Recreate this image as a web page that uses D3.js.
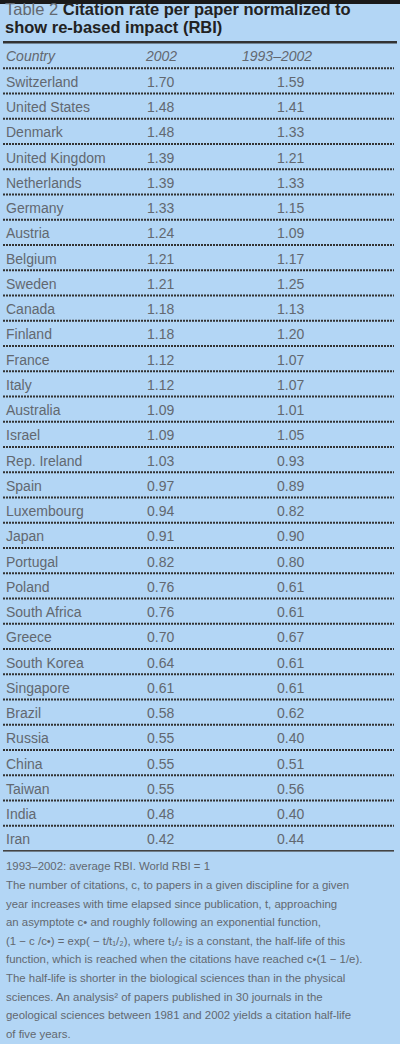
<!DOCTYPE html>
<html><head><meta charset="utf-8">
<script src="https://cdn.jsdelivr.net/npm/d3@7"></script>
<style>body{margin:0;background:#b3d6f5}</style></head>
<body><svg id="chart" width="400" height="1044"></svg>
<script>
const countries = ['Switzerland','United States','Denmark','United Kingdom','Netherlands','Germany','Austria','Belgium','Sweden','Canada','Finland','France','Italy','Australia','Israel','Rep. Ireland','Spain','Luxembourg','Japan','Portugal','Poland','South Africa','Greece','South Korea','Singapore','Brazil','Russia','China','Taiwan','India','Iran'];
const rbi2002 = [1.70,1.48,1.48,1.39,1.39,1.33,1.24,1.21,1.21,1.18,1.18,1.12,1.12,1.09,1.09,1.03,0.97,0.94,0.91,0.82,0.76,0.76,0.70,0.64,0.61,0.58,0.55,0.55,0.55,0.48,0.42];
const rbiAvg = [1.59,1.41,1.33,1.21,1.33,1.15,1.09,1.17,1.25,1.13,1.20,1.07,1.07,1.01,1.05,0.93,0.89,0.82,0.90,0.80,0.61,0.61,0.67,0.61,0.61,0.62,0.40,0.51,0.56,0.40,0.44];
const headers = ['Country','2002','1993\u20132002'];
const notes = ['The number of citations, c, to papers in a given discipline for a given','year increases with time elapsed since publication, t, approaching','an asymptote c\u2022 and roughly following an exponential function,','(1 \u2212 c /c\u2022) = exp( \u2212 t/t\u2081/\u2082), where t\u2081/\u2082 is a constant, the half-life of this','function, which is reached when the citations have reached c\u2022(1 \u2212 1/e).','The half-life is shorter in the biological sciences than in the physical','sciences. An analysis\u00b2 of papers published in 30 journals in the','geological sciences between 1981 and 2002 yields a citation half-life','of five years.'];

const svg = d3.select('#chart');
const ink = '#626870';
const font = 'Liberation Sans, Arial, sans-serif';

svg.append('rect').attr('width',400).attr('height',4).attr('fill','#1a1a1a');
const title = svg.append('text').attr('x',5).attr('y',15).attr('font-family',font).attr('font-size',16.5).attr('fill','#222');
title.append('tspan').attr('fill',ink).text('Table 2 ');
title.append('tspan').attr('font-weight','bold').text('Citation rate per paper normalized to');
svg.append('text').attr('x',5).attr('y',33).attr('font-family',font).attr('font-size',16.5).attr('font-weight','bold').attr('fill','#222').text('show re-based impact (RBI)');
svg.append('rect').attr('x',3).attr('y',41).attr('width',394).attr('height',2.5).attr('fill','#333');

const y = d3.scaleBand().domain(d3.range(-1, countries.length)).range([43, 851]);
const colX = [6, 146, 242];
const fs = 14;

svg.append('g').selectAll('text').data(headers).join('text')
  .attr('x',(d,i)=>colX[i]).attr('y',y(-1)+y.bandwidth()/2+5)
  .attr('font-family',font).attr('font-size',fs).attr('font-style','italic').attr('fill',ink).text(d=>d);

const rows = svg.append('g').selectAll('g').data(countries).join('g')
  .attr('transform',(d,i)=>`translate(0,${y(i)})`);
rows.append('text').attr('x',colX[0]).attr('y',y.bandwidth()/2+6)
  .attr('font-family',font).attr('font-size',fs).attr('fill',ink).text(d=>d);
rows.append('text').attr('x',147).attr('y',y.bandwidth()/2+6)
  .attr('font-family',font).attr('font-size',fs).attr('fill',ink).text((d,i)=>rbi2002[i].toFixed(2));
rows.append('text').attr('x',277).attr('y',y.bandwidth()/2+6)
  .attr('font-family',font).attr('font-size',fs).attr('fill',ink).text((d,i)=>rbiAvg[i].toFixed(2));

svg.append('g').selectAll('line').data(d3.range(0, countries.length)).join('line')
  .attr('x1',3).attr('x2',394).attr('y1',d=>y(d)).attr('y2',d=>y(d))
  .attr('stroke','#333').attr('stroke-width',2.2).attr('stroke-dasharray','2,1');
svg.append('rect').attr('x',3).attr('y',850).attr('width',391).attr('height',1.6).attr('fill','#444');

svg.append('text').attr('x',6).attr('y',870).attr('font-family',font).attr('font-size',11.4).attr('fill',ink).text('1993\u20132002: average RBI. World RBI = 1');
svg.append('g').selectAll('text').data(notes).join('text')
  .attr('x',6).attr('y',(d,i)=>889+i*18.6).attr('font-family',font).attr('font-size',11.4)
  .attr('fill',ink).text(d=>d);
</script></body></html>
